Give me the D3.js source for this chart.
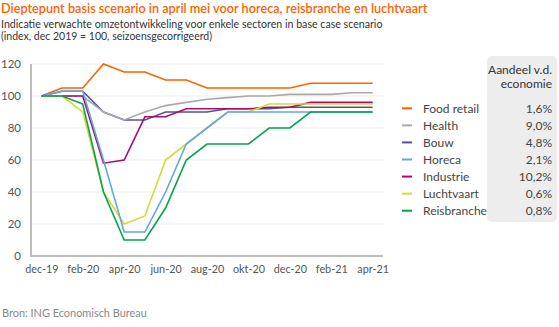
<!DOCTYPE html>
<html>
<head>
<meta charset="utf-8">
<script src="https://cdn.jsdelivr.net/npm/d3@7"></script>
<style>
  html, body { margin: 0; padding: 0; background: #fff; }
  svg { display: block; font-family: Lato, "Noto Sans", sans-serif; }
</style>
</head>
<body>
<svg id="chart" width="559" height="327"></svg>
<script>
// Months, monthly index dec 2019 = 100
const months = ["dec-19","jan-20","feb-20","mrt-20","apr-20","mei-20","jun-20","jul-20","aug-20",
                "sep-20","okt-20","nov-20","dec-20","jan-21","feb-21","mrt-21","apr-21"];
const tickMonths = ["dec-19","feb-20","apr-20","jun-20","aug-20","okt-20","dec-20","feb-21","apr-21"];
const yTicks = [0, 20, 40, 60, 80, 100, 120];

const foodRetail  = [100,105,105,120,115,115,110,110,105,105,105,105,105,108,108,108,108];
const health      = [100,100,100, 90, 85, 90, 94, 96, 98, 99,100,100,101,101,101,102,102];
const bouw        = [100,103,103, 90, 85, 85, 90, 90, 90, 92, 92, 92, 93, 93, 93, 93, 93];
const horeca      = [100,103,103, 60, 15, 15, 40, 70, 80, 90, 90, 90, 90, 90, 90, 90, 90];
const industrie   = [100,100,100, 58, 60, 87, 87, 92, 92, 92, 92, 93, 93, 96, 96, 96, 96];
const luchtvaart  = [100,100, 90, 40, 20, 25, 60, 70, 80, 90, 90, 95, 95, 95, 95, 95, 95];
const reisbranche = [100,100, 95, 40, 10, 10, 30, 60, 70, 70, 70, 80, 80, 90, 90, 90, 90];

const seriesNames  = ["Food retail","Health","Bouw","Horeca","Industrie","Luchtvaart","Reisbranche"];
const seriesValues = [foodRetail, health, bouw, horeca, industrie, luchtvaart, reisbranche];
const seriesColors = ["#ff6200","#a9a9a9","#52519a","#62a8de","#ad0c6c","#d3da3a","#07a24c"];
const shares       = ["1,6%","9,0%","4,8%","2,1%","10,2%","0,6%","0,8%"];
// Stacking order of the lines (later ones on top)
const drawOrder    = [0, 2, 1, 4, 5, 3, 6];

const svg = d3.select("#chart");

// Scale a text's font size so that it spans the given width
function fitWidth(sel, width) {
  const node = sel.node();
  const size = parseFloat(sel.attr("font-size"));
  const w = node.getComputedTextLength();
  sel.attr("font-size", (size * width / w).toFixed(2));
  return sel;
}

// Titles
fitWidth(svg.append("text").attr("x", 1).attr("y", 13)
  .attr("font-size", 13).attr("font-weight", 600).attr("fill", "#ff6200")
  .text("Dieptepunt basis scenario in april mei voor horeca, reisbranche en luchtvaart"), 427);
fitWidth(svg.append("text").attr("x", 1).attr("y", 27.5)
  .attr("font-size", 11).attr("fill", "#333")
  .text("Indicatie verwachte omzetontwikkeling voor enkele sectoren in base case scenario"), 382);
fitWidth(svg.append("text").attr("x", 1).attr("y", 40)
  .attr("font-size", 11).attr("fill", "#333")
  .text("(index, dec 2019 = 100, seizoensgecorrigeerd)"), 211);

// Scales
const x = d3.scalePoint().domain(months).range([31, 383]).padding(0.5);
const y = d3.scaleLinear().domain([0, 120]).range([256, 64]);

// Gridlines
svg.append("g").selectAll("line").data(yTicks.filter(d => d > 0)).join("line")
  .attr("x1", 31).attr("x2", 383)
  .attr("y1", d => y(d)).attr("y2", d => y(d))
  .attr("stroke", "#ebebeb").attr("stroke-width", 1);

// Y axis labels
const yAxis = svg.append("g").attr("transform", "translate(31,0)")
  .call(d3.axisLeft(y).tickValues(yTicks).tickSize(0).tickPadding(10));
yAxis.select(".domain").remove();
yAxis.selectAll("text").attr("font-size", 11.5).attr("fill", "#555").attr("font-family", "Lato, sans-serif");

// X axis labels
const xAxis = svg.append("g").attr("transform", "translate(0,256)")
  .call(d3.axisBottom(x).tickValues(tickMonths).tickSize(0).tickPadding(9));
xAxis.select(".domain").remove();
xAxis.selectAll("text").attr("font-size", 10.8).attr("fill", "#555").attr("font-family", "Lato, sans-serif");

// Lines
const line = d3.line().x((d, i) => x(months[i])).y(d => y(d));
svg.append("g").selectAll("path").data(drawOrder).join("path")
  .attr("d", k => line(seriesValues[k]))
  .attr("fill", "none")
  .attr("stroke", k => seriesColors[k])
  .attr("stroke-width", 1.6)
  .attr("stroke-linejoin", "miter");

// Axis lines
svg.append("line").attr("x1", 31).attr("x2", 31).attr("y1", 64).attr("y2", 257)
  .attr("stroke", "#bdbdbd").attr("stroke-width", 2);
svg.append("line").attr("x1", 30).attr("x2", 383).attr("y1", 256).attr("y2", 256)
  .attr("stroke", "#bdbdbd").attr("stroke-width", 2);

// Share panel
svg.append("rect").attr("x", 487).attr("y", 56).attr("width", 70).attr("height", 166)
  .attr("rx", 5).attr("fill", "#ededed");
svg.append("text").attr("x", 552).attr("y", 74).attr("text-anchor", "end")
  .attr("font-size", 12).attr("fill", "#333").text("Aandeel v.d.");
svg.append("text").attr("x", 552).attr("y", 87.5).attr("text-anchor", "end")
  .attr("font-size", 12).attr("fill", "#333").text("economie");

// Legend
const legendY = d3.scalePoint().domain(seriesNames).range([108.3, 210.7]);
const legend = svg.append("g").selectAll("g").data(seriesNames).join("g")
  .attr("transform", d => `translate(0,${legendY(d)})`);
legend.append("line").attr("x1", 402).attr("x2", 412).attr("y1", 0).attr("y2", 0)
  .attr("stroke", (d, i) => seriesColors[i]).attr("stroke-width", 2);
legend.append("text").attr("x", 423).attr("y", 4.3)
  .attr("font-size", 12).attr("fill", "#444").text(d => d);
legend.append("text").attr("x", 552).attr("y", 4.3).attr("text-anchor", "end")
  .attr("font-size", 12).attr("fill", "#444").text((d, i) => shares[i]);

// Source
fitWidth(svg.append("text").attr("x", 2).attr("y", 317)
  .attr("font-size", 11).attr("fill", "#888").text("Bron: ING Economisch Bureau"), 145);
</script>
</body>
</html>
